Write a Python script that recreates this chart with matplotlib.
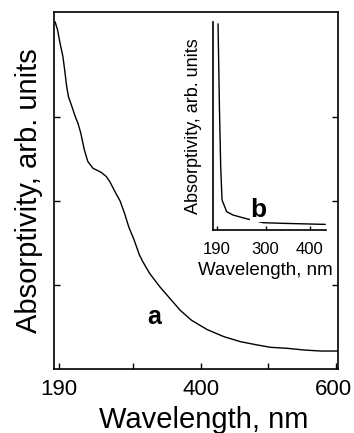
import matplotlib
matplotlib.use("Agg")
import matplotlib.pyplot as plt
from matplotlib.transforms import ScaledTranslation

plt.rcParams['font.family'] = ['Liberation Sans', 'DejaVu Sans']

# Main spectrum (a)
wl_a = [184, 187.5, 191.2, 195.5, 198.1, 201.1, 203.8, 209, 214, 218, 221.9, 227.2,
        232.4, 240, 252.4, 259.9, 265, 272.7, 280.2, 286.5, 293.1, 300.8, 308.7,
        313.7, 323.8, 338.9, 354, 369.1, 386, 409, 433.9, 458.6, 483.5, 503.2,
        527.9, 552.7, 577.4, 602]
abs_a = [4.13, 4.04, 3.88, 3.72, 3.56, 3.36, 3.24, 3.12, 3.0, 2.92, 2.81, 2.61,
         2.47, 2.39, 2.34, 2.29, 2.23, 2.11, 2.0, 1.86, 1.69, 1.54, 1.36,
         1.28, 1.14, 0.98, 0.84, 0.70, 0.58, 0.47, 0.385, 0.325, 0.286, 0.258,
         0.246, 0.226, 0.214, 0.214]
xticks_a = [190, 400, 600]
xminor_a = [300, 500]

# Inset spectrum (b)
wl_b = [193, 196, 199, 202, 212.5, 226.7, 253.7, 295, 340, 434]
abs_b = [0.99, 0.60, 0.30, 0.144, 0.088, 0.072, 0.056, 0.035, 0.032, 0.027]
xticks_b = [190, 300, 400]

W, H = 354, 433
fig = plt.figure(figsize=(W / 100, H / 100), dpi=100)

def rect(l, r, t, b):
    return [l / W, (H - b) / H, (r - l) / W, (b - t) / H]

ax = fig.add_axes(rect(54, 338.3, 12, 369))
ax.plot(wl_a, abs_a, color='black', lw=1.0)
ax.set_xlim(182.3, 603.4)
ax.set_ylim(0, 4.25)
ax.set_xticks(xticks_a)
ax.set_xticks(xminor_a, minor=True)
ax.set_yticks([1, 2, 3])
ax.tick_params(axis='both', which='both', direction='in', length=4, width=1.0,
               top=False, right=True, left=True)
ax.tick_params(axis='y', labelleft=False)
ax.tick_params(axis='x', labelsize=16, pad=7)
for s in ax.spines.values():
    s.set_linewidth(1.2)
ax.set_xlabel('Wavelength, nm', fontsize=21)
ax.xaxis.set_label_coords(0.525, -0.105)
ax.set_ylabel('Absorptivity, arb. units', fontsize=21, labelpad=8)
ax.text(330, 0.62, 'a', fontsize=18, fontweight='bold', ha='center', va='center')
last = ax.get_xticklabels()[-1]
last.set_transform(last.get_transform() + ScaledTranslation(-0.03, 0, fig.dpi_scale_trans))

ins = fig.add_axes(rect(213.3, 325.5, 22, 230))
ins.plot(wl_b, abs_b, color='black', lw=1.0)
ins.set_xlim(182.3, 435)
ins.set_ylim(0, 1.0)
ins.set_xticks(xticks_b)
ins.set_yticks([])
ins.spines['top'].set_visible(False)
ins.spines['right'].set_visible(False)
for s in ['left', 'bottom']:
    ins.spines[s].set_linewidth(1.2)
ins.tick_params(axis='x', direction='in', length=3, width=1.0, labelsize=12, pad=9)
ins.set_xlabel('Wavelength, nm', fontsize=13.5)
ins.xaxis.set_label_coords(0.46, -0.155)
ins.set_ylabel('Absorptivity, arb. units', fontsize=13, labelpad=8)
ins.text(283, 0.096, 'b', fontsize=19, fontweight='bold', ha='center', va='center',
         bbox=dict(facecolor='white', edgecolor='none', pad=0))

fig.savefig('out.png', dpi=100)
